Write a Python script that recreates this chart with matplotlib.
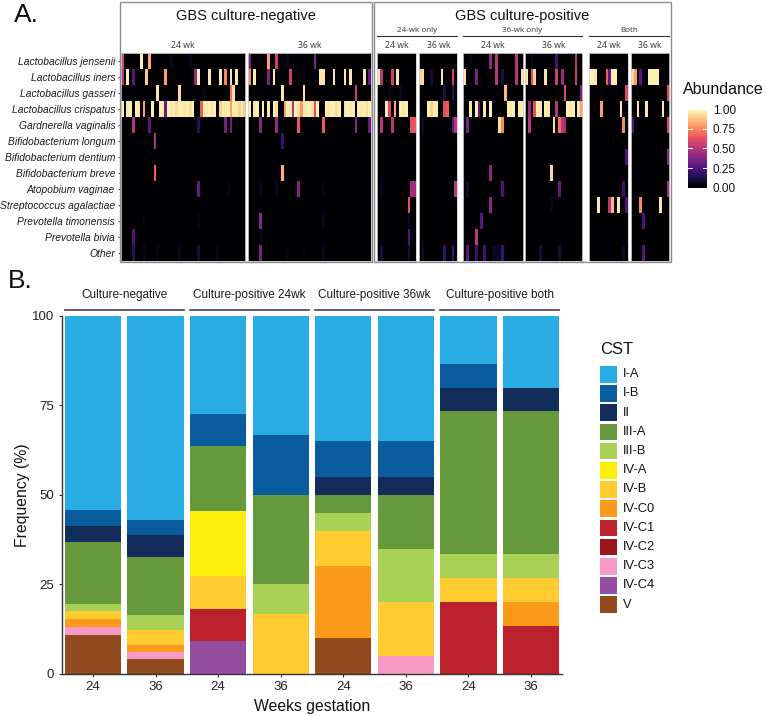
import numpy as np
import matplotlib
matplotlib.use("Agg")
import matplotlib.pyplot as plt
from matplotlib.patches import Rectangle
from matplotlib.lines import Line2D
from matplotlib.cm import ScalarMappable
from matplotlib.colors import Normalize

plt.rcParams['font.family'] = ['Liberation Sans', 'DejaVu Sans']

# ---------------- panel A data (relative abundance, sparse: (sample, value)) ----
TAXA = ["Lactobacillus jensenii", "Lactobacillus iners", "Lactobacillus gasseri",
        "Lactobacillus crispatus", "Gardnerella vaginalis", "Bifidobacterium longum",
        "Bifidobacterium dentium", "Bifidobacterium breve", "Atopobium vaginae",
        "Streptococcus agalactiae", "Prevotella timonensis", "Prevotella bivia", "Other"]

HM_LABELS = ["24 wk", "36 wk", "24 wk", "36 wk", "24 wk", "36 wk", "24 wk", "36 wk"]
HM_NCOLS = [46, 45, 14, 14, 21, 21, 14, 14]

NEG_24 = [
    [(0, .6), (7, .97), (10, .82), (18, .05), (25, .05)],
    [(0, .5), (2, .97), (4, .28), (9, .88), (16, .8), (27, .42), (28, .97), (32, .95),
     (36, .95), (38, .75), (40, .95), (42, .95)],
    [(13, .95), (21, .92), (30, .06), (40, .7), (41, .93)],
    [(0, .97), (2, .95), (3, .97), (5, .97), (6, .95), (8, .8), (11, .97), (14, .97),
     (15, .95), (16, .3), (17, .97), (18, .95), (19, .97), (20, .93), (21, .97), (22, .97),
     (23, .95), (24, .97), (25, .93), (26, .97), (29, .65), (30, .97), (31, .95), (32, .97),
     (33, .95), (34, .97), (36, .9), (37, .97), (38, .95), (39, .97), (40, .8), (41, .97),
     (42, .95), (43, .9), (44, .97), (45, .88)],
    [(4, .5), (10, .28), (28, .15), (38, .35), (40, .33)],
    [(12, .48)],
    [],
    [(12, .65)],
    [(28, .3), (39, .04)],
    [],
    [(8, .04), (28, .04)],
    [(4, .25)],
    [(4, .15), (8, .06), (13, .04), (21, .06), (28, .1), (35, .05)],
]
NEG_36 = [
    [(0, .35), (7, .8), (10, .55), (14, .06), (24, .38)],
    [(0, .75), (2, .97), (7, .35), (9, .95), (15, .55), (20, .06), (26, .95), (27, .95),
     (31, .95), (35, .95), (37, .95), (42, .95), (44, .3)],
    [(12, .95), (20, .93), (39, .55)],
    [(0, .97), (2, .95), (3, .97), (5, .97), (7, .95), (9, .97), (10, .93), (13, .8),
     (14, .97), (15, .95), (16, .5), (17, .97), (18, .95), (19, .78), (20, .97), (21, .95),
     (22, .97), (23, .93), (24, .62), (25, .97), (28, .97), (29, .95), (30, .97), (31, .97),
     (32, .93), (33, .97), (35, .95), (36, .97), (37, .95), (38, .97), (40, .97), (41, .95),
     (42, .97), (43, .93), (44, .97)],
    [(4, .38), (10, .42), (18, .65), (27, .65), (39, .38), (44, .32)],
    [(12, .2)],
    [],
    [(12, .83)],
    [(4, .06), (10, .06), (18, .38), (27, .04)],
    [],
    [(4, .38), (27, .06)],
    [(4, .05)],
    [(4, .35), (14, .04), (20, .04), (27, .06)],
]
POS24_24 = [
    [],
    [(0, .95), (1, .5), (5, .55), (7, .95)],
    [(4, .05), (8, .06)],
    [(3, .95), (4, .6), (6, .8), (8, .97), (9, .95), (10, .97)],
    [(1, .5), (5, .5), (12, .62), (13, .64)],
    [], [], [],
    [(1, .05), (12, .45), (13, .45)],
    [(11, .62)],
    [(11, .06)],
    [(11, .25)],
    [(1, .1), (11, .1)],
]
POS24_36 = [
    [],
    [(0, .9), (1, .92), (4, .1), (8, .95), (12, .55)],
    [(9, .12), (12, .15)],
    [(3, .97), (4, .9), (5, .97), (6, .95), (9, .62), (10, .65)],
    [(1, .08), (12, .28), (13, .5)],
    [], [], [],
    [(13, .5)],
    [], [], [],
    [(1, .08), (9, .2), (12, .22)],
]
POS36_24 = [
    [(2, .05), (9, .4), (11, .5), (18, .5)],
    [(0, .95), (4, .35), (11, .5), (13, .12), (18, .5), (20, .95)],
    [(14, .85)],
    [(2, .95), (4, .97), (5, .3), (7, .95), (9, .97), (15, .97), (16, .95), (17, .97),
     (19, .95), (20, .97)],
    [(1, .35), (12, .95), (13, .75)],
    [], [],
    [(9, .4)],
    [(1, .08), (13, .25)],
    [(9, .4)],
    [(6, .28)],
    [(4, .52)],
    [(1, .28), (4, .2), (7, .22), (10, .06), (11, .06), (12, .06), (13, .2)],
]
POS36_36 = [
    [(2, .06), (11, .22), (18, .5)],
    [(0, .95), (2, .62), (3, .9), (7, .95), (11, .55), (13, .42), (18, .55)],
    [(14, .6), (20, .35)],
    [(1, .42), (3, .62), (4, .97), (5, .95), (7, .97), (8, .95), (11, .5), (15, .97),
     (16, .95), (17, .97), (19, .95), (20, .8)],
    [(1, .5), (10, .92), (12, .7), (13, .5), (14, .45)],
    [], [],
    [(9, .92)],
    [(12, .3)],
    [(9, .05)],
    [], [],
    [(5, .1), (12, .1)],
]
BOTH_24 = [
    [],
    [(0, .97), (1, .97), (2, .95), (6, .65), (7, .28), (8, .97), (9, .97)],
    [(13, .6)],
    [(4, .8), (11, .95)],
    [(12, .75)],
    [],
    [(13, .25)],
    [],
    [(12, .2)],
    [(3, .95), (7, .5), (8, .85), (10, .95), (13, .25)],
    [], [],
    [(12, .08)],
]
BOTH_36 = [
    [],
    [(0, .92), (1, .8), (3, .28), (6, .97), (7, .97), (8, .97), (9, .97)],
    [(13, .6)],
    [(2, .95), (5, .95), (11, .95)],
    [(0, .25), (13, .6)],
    [],
    [(13, .38)],
    [],
    [(13, .45)],
    [(3, .75), (10, .95)],
    [(4, .25)],
    [],
    [(4, .28)],
]
HM_DATA = [NEG_24, NEG_36, POS24_24, POS24_36, POS36_24, POS36_36, BOTH_24, BOTH_36]

# ---------------- panel B data (number of women per CST) -----------------------
GROUPS = ["Culture-negative", "Culture-positive 24wk", "Culture-positive 36wk",
          "Culture-positive both"]
WEEKS = ["24", "36", "24", "36", "24", "36", "24", "36"]
CST = ["I-A", "I-B", "II", "III-A", "III-B", "IV-A", "IV-B", "IV-C0", "IV-C1",
       "IV-C2", "IV-C3", "IV-C4", "V"]
CST_COLORS = ["#29abe3", "#0a5c9c", "#132d5b", "#65993c", "#a9d156", "#fdee0c",
              "#fecc30", "#fb9a1b", "#bb212d", "#9a151c", "#f89ac5", "#944ca1", "#924a1f"]
COUNTS = {
    "I-A":   [25, 28, 3, 4, 7, 7, 2, 3],
    "I-B":   [2, 2, 1, 2, 2, 2, 1, 0],
    "II":    [2, 3, 0, 0, 1, 1, 1, 1],
    "III-A": [8, 8, 2, 3, 1, 3, 6, 6],
    "III-B": [1, 2, 0, 1, 1, 3, 1, 1],
    "IV-A":  [0, 0, 2, 0, 0, 0, 0, 0],
    "IV-B":  [1, 2, 1, 2, 2, 3, 1, 1],
    "IV-C0": [1, 1, 0, 0, 4, 0, 0, 1],
    "IV-C1": [0, 0, 1, 0, 0, 0, 3, 2],
    "IV-C2": [0, 0, 0, 0, 0, 0, 0, 0],
    "IV-C3": [1, 1, 0, 0, 0, 1, 0, 0],
    "IV-C4": [0, 0, 1, 0, 0, 0, 0, 0],
    "V":     [5, 2, 0, 0, 2, 0, 0, 0],
}

# ---------------- layout helpers (pixel coords, origin top-left) ---------------
W, H = 767, 716
fig = plt.figure(figsize=(W / 100, H / 100), dpi=100)


def px_axes(x0, y0, x1, y1):
    return fig.add_axes([x0 / W, 1 - y1 / H, (x1 - x0) / W, (y1 - y0) / H])


def ftext(x, y, s, **kw):
    fig.text(x / W, 1 - y / H, s, **kw)


def fline(x0, x1, y, **kw):
    fig.add_artist(Line2D([x0 / W, x1 / W], [1 - y / H, 1 - y / H],
                          transform=fig.transFigure, **kw))


def fbox(x0, y0, x1, y1, **kw):
    fig.add_artist(Rectangle((x0 / W, 1 - y1 / H), (x1 - x0) / W, (y1 - y0) / H,
                             transform=fig.transFigure, **kw))


# ================= A. heatmap =================
HM_X = [(120.7, 245.0), (248.3, 371.0), (377.3, 415.7), (419.3, 457.3),
        (462.7, 522.7), (524.5, 582.3), (589.3, 627.7), (630.7, 669.0)]
HM_TOP, HM_BOT = 53.3, 260.7

for i, (panel, n) in enumerate(zip(HM_DATA, HM_NCOLS)):
    mat = np.zeros((len(TAXA), n))
    for r, cells in enumerate(panel):
        for c, v in cells:
            mat[r, c] = v
    x0, x1 = HM_X[i]
    ax = px_axes(x0, HM_TOP, x1, HM_BOT)
    ax.imshow(mat, cmap="magma", vmin=0, vmax=1, aspect="auto", interpolation="nearest")
    ax.set_xticks([])
    for sp in ax.spines.values():
        sp.set_color("#cfcfcf")
        sp.set_linewidth(0.6)
    if i == 0:
        ax.set_yticks(range(len(TAXA)))
        ax.set_yticklabels(TAXA, fontsize=7.4, style="italic", color="#1a1a1a")
        ax.tick_params(axis="y", length=2.5, width=0.7, color="#444", pad=1.5)
    else:
        ax.set_yticks([])
    ftext((x0 + x1) / 2, 45, HM_LABELS[i], fontsize=6.3, color="#333",
          ha="center", va="center", family=["Open Sans", "DejaVu Sans"])

fbox(119.8, 2.3, 371.8, 262.3, fill=False, edgecolor="#8c8c8c", lw=1.0)
fbox(373.5, 2.3, 670.5, 262.3, fill=False, edgecolor="#8c8c8c", lw=1.0)
ftext(246, 16, "GBS culture-negative", fontsize=10.5, ha="center", va="center", color="#111")
ftext(522, 16, "GBS culture-positive", fontsize=10.5, ha="center", va="center", color="#111")
for lab, xa, xb in [("24-wk only", 377.3, 457.3), ("36-wk only", 462.7, 582.3),
                    ("Both", 589.3, 669.0)]:
    ftext((xa + xb) / 2, 30.5, lab, fontsize=5.8, ha="center", va="center", color="#333",
          family=["Open Sans", "DejaVu Sans"])
    fline(xa, xb, 35.7, color="#333", lw=0.8)

ftext(14, 15, "A.", fontsize=19, ha="left", va="center", color="#111")

# colourbar
cax = px_axes(688, 109, 707, 187.7)
cb = fig.colorbar(ScalarMappable(Normalize(0, 1), cmap="magma"), cax=cax)
cb.outline.set_visible(False)
cb_ticks = [0, .25, .5, .75, 1]
cb.set_ticks(cb_ticks)
cb.set_ticklabels(["0.00", "0.25", "0.50", "0.75", "1.00"])
cax.tick_params(length=0, labelsize=8.5, pad=4, labelcolor="#111")
for t in cb_ticks:
    cax.plot([0, .2], [t, t], color="white", lw=0.7)
    cax.plot([.8, 1], [t, t], color="white", lw=0.7)
ftext(683, 89, "Abundance", fontsize=11.5, ha="left", va="center", color="#111")

# ================= B. stacked bars =================
BX0, BY0, BX1, BY1 = 61.75, 316, 562.3, 673.7
ax = px_axes(BX0, BY0, BX1, BY1)
x = np.arange(len(WEEKS))
tot = np.sum([COUNTS[c] for c in CST], axis=0)
bottom = np.zeros(len(WEEKS))
for name, col in reversed(list(zip(CST, CST_COLORS))):
    pct = np.array(COUNTS[name]) / tot * 100
    ax.bar(x, pct, 0.9, bottom=bottom, color=col, linewidth=0)
    bottom += pct
ax.set_xlim(-0.5, len(WEEKS) - 0.5)
ax.set_ylim(0, 100)
ax.set_yticks([0, 25, 50, 75, 100])
ax.set_xticks(x)
ax.set_xticklabels(WEEKS)
for s in ["top", "right"]:
    ax.spines[s].set_visible(False)
for s in ["left", "bottom"]:
    ax.spines[s].set_color("#333")
    ax.spines[s].set_linewidth(1.0)
ax.tick_params(length=2.5, width=0.8, color="#333", labelsize=9.5, labelcolor="#222", pad=3)
ax.set_xlabel("Weeks gestation", fontsize=11.3, color="#111", labelpad=4)
ax.set_ylabel("Frequency (%)", fontsize=11.3, color="#111")
ax.yaxis.set_label_coords((30 - BX0) / (BX1 - BX0), 0.5)


def ay(ypx):
    return (BY1 - ypx) / (BY1 - BY0)


for g, name in enumerate(GROUPS):
    xa, xb = 2 * g - 0.45, 2 * g + 1.45
    ax.add_line(Line2D([xa, xb], [ay(310), ay(310)], transform=ax.get_xaxis_transform(),
                       color="#444", lw=1.2, clip_on=False))
    ax.text((xa + xb) / 2, ay(295), name, transform=ax.get_xaxis_transform(),
            fontsize=8.5, ha="center", va="center", color="#1a1a1a")

ftext(8, 281, "B.", fontsize=19, ha="left", va="center", color="#111")

# legend
ftext(600, 350, "CST", fontsize=12, ha="left", va="center", color="#111")
for i, (name, col) in enumerate(zip(CST, CST_COLORS)):
    yc = 374.3 + 19.2 * i
    fbox(600, yc - 8.35, 617.3, yc + 8.35, facecolor=col, edgecolor="none")
    ftext(622.7, yc, name, fontsize=9.3, ha="left", va="center", color="#111")

fig.savefig("out.png", dpi=100)
